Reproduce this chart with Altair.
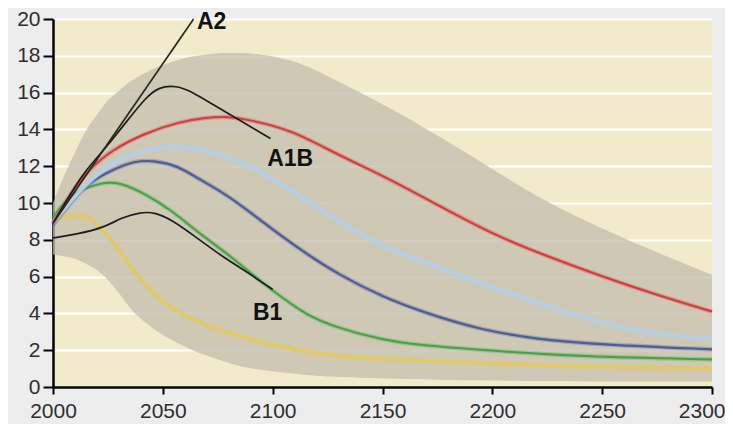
import altair as alt
import pandas as pd
import numpy as np

# ---- data ----
band_years = [2000, 2005, 2015, 2025, 2035, 2045, 2060, 2075, 2090, 2100, 2115, 2130,
              2150, 2175, 2200, 2225, 2250, 2275, 2300]
band_upper = [10.0, 11.5, 14.0, 15.6, 16.6, 17.3, 17.9, 18.15, 18.15, 18.0, 17.5, 16.6,
              15.4, 13.7, 11.85, 10.0, 8.6, 7.3, 6.1]
band_lower_years = [2000, 2010, 2020, 2026, 2032, 2037, 2045, 2053, 2065, 2080, 2090, 2100,
                    2120, 2150, 2200, 2250, 2300]
band_lower = [7.2, 7.0, 6.4, 5.7, 4.8, 4.0, 3.2, 2.6, 1.9, 1.3, 1.0, 0.85,
              0.6, 0.45, 0.35, 0.3, 0.3]

a2_years = [2000, 2064]
a2_vals = [8.9, 20.0]

a1b_years = [2000, 2009, 2015, 2024, 2034, 2042, 2048, 2056, 2064, 2072, 2085, 2099]
a1b_vals = [8.9, 10.7, 11.8, 13.0, 14.5, 15.7, 16.3, 16.4, 16.0, 15.4, 14.5, 13.5]

red_years = [2000, 2009, 2016, 2027, 2042, 2057, 2070, 2080, 2090, 2108, 2130, 2150,
             2175, 2200, 2225, 2250, 2275, 2300]
red_vals = [8.9, 10.7, 11.8, 12.9, 13.8, 14.4, 14.65, 14.7, 14.5, 14.0, 12.6, 11.5,
            9.9, 8.3, 7.1, 6.0, 5.0, 4.1]

lightblue_years = [2000, 2010, 2020, 2030, 2045, 2058, 2070, 2085, 2100, 2115, 2130, 2150,
                   2175, 2200, 2225, 2240, 2260, 2280, 2300]
lightblue_vals = [8.9, 10.4, 11.6, 12.4, 13.0, 13.1, 12.9, 12.3, 11.3, 10.2, 9.0, 7.6,
                  6.5, 5.4, 4.4, 3.8, 3.2, 2.8, 2.6]

darkblue_years = [2000, 2008, 2016, 2027, 2037, 2047, 2057, 2065, 2080, 2095, 2112, 2130,
                  2150, 2170, 2195, 2220, 2250, 2300]
darkblue_vals = [8.8, 10.0, 11.1, 11.8, 12.3, 12.3, 12.0, 11.4, 10.4, 9.0, 7.5, 6.1,
                 4.9, 4.0, 3.1, 2.6, 2.3, 2.05]

green_years = [2000, 2006, 2012, 2022, 2030, 2042, 2054, 2065, 2077, 2087, 2095, 2105,
               2115, 2127, 2150, 2165, 2195, 2240, 2300]
green_vals = [9.2, 10.2, 10.7, 11.1, 11.15, 10.5, 9.6, 8.5, 7.45, 6.5, 5.7, 4.8,
              3.95, 3.3, 2.55, 2.3, 2.0, 1.65, 1.5]

b1_years = [2000, 2011, 2024, 2031, 2040, 2046, 2054, 2065, 2077, 2087, 2100]
b1_vals = [8.1, 8.3, 8.7, 9.2, 9.5, 9.5, 9.1, 8.15, 7.1, 6.35, 5.3]

yellow_years = [2000, 2008, 2015, 2022, 2028, 2034, 2041, 2050, 2059, 2075, 2090, 2100,
                2115, 2135, 2160, 2195, 2240, 2300]
yellow_vals = [9.0, 9.4, 9.3, 8.7, 7.8, 6.7, 5.7, 4.6, 3.9, 3.1, 2.6, 2.3,
               1.9, 1.6, 1.45, 1.3, 1.1, 1.0]

label_text = ["A2", "A1B", "B1"]
label_year = [2065.5, 2097.5, 2091]
label_value = [19.85, 12.4, 4.0]

x_ticks = [2000, 2050, 2100, 2150, 2200, 2250, 2300]
y_ticks = [0, 2, 4, 6, 8, 10, 12, 14, 16, 18, 20]

# ---- build chart ----
xs = alt.Scale(domain=[2000, 2300], nice=False)
ys = alt.Scale(domain=[0, 20], nice=False)
last_test = "datum.value == 2300"
xax = alt.Axis(values=x_ticks, format="d", title=None, grid=False, tickSize=7,
               labelPadding=6, labelFlush=False,
               labelAlign={"condition": {"test": last_test, "value": "right"},
                           "value": "center"},
               labelOffset={"condition": {"test": last_test, "value": 13},
                            "value": 0})
yax = alt.Axis(values=y_ticks, title=None, grid=True, gridColor="white", gridWidth=2,
               tickSize=10, labelPadding=3, labelFlush=False)

X = lambda f: alt.X(f, type="quantitative", scale=xs, axis=xax)
Y = lambda f: alt.Y(f, type="quantitative", scale=ys, axis=yax)

grid = sorted(set(band_years) | set(band_lower_years))
band2 = pd.DataFrame({
    "year": grid,
    "upper": np.interp(grid, band_years, band_upper),
    "lower": np.interp(grid, band_lower_years, band_lower),
})
band = alt.Chart(band2).mark_area(
    color="#c2bcae", opacity=0.75, interpolate="basis"
).encode(x=X("year"), y=Y("upper"), y2="lower:Q")

series = [
    ("yellow", yellow_years, yellow_vals, "#e6c95a", 2.5, "basis"),
    ("green", green_years, green_vals, "#44a444", 2.0, "basis"),
    ("darkblue", darkblue_years, darkblue_vals, "#4c5d98", 2.2, "basis"),
    ("lightblue", lightblue_years, lightblue_vals, "#b5d0e6", 3.5, "basis"),
    ("red", red_years, red_vals, "#d63a3a", 2.0, "basis"),
    ("b1", b1_years, b1_vals, "#1e1e1e", 1.7, "basis"),
    ("a1b", a1b_years, a1b_vals, "#1e1e1e", 1.7, "basis"),
    ("a2", a2_years, a2_vals, "#2a2a1e", 1.7, "linear"),
]

layers = [band]
for name, yrs, vals, col, sw, interp in series:
    df = pd.DataFrame({"year": yrs, "v": vals})
    base = alt.Chart(df)
    if name not in ("b1", "a1b", "a2"):
        layers.append(base.mark_line(color=col, strokeWidth=sw + 2.5, opacity=0.3,
                                     interpolate=interp).encode(x=X("year"), y=Y("v")))
    layers.append(base.mark_line(color=col, strokeWidth=sw, interpolate=interp)
                  .encode(x=X("year"), y=Y("v")))

lab_df = pd.DataFrame({"t": label_text, "year": label_year, "v": label_value})
labels = alt.Chart(lab_df).mark_text(
    align="left", baseline="middle", fontWeight="bold", fontSize=23,
    font="Liberation Sans", color="#111"
).encode(x=X("year"), y=Y("v"), text="t:N")
layers.append(labels)

chart = alt.layer(*layers).properties(
    width=659, height=368,
    autosize=alt.AutoSizeParams(type="none"),
    padding={"left": 45, "top": 11, "right": 13, "bottom": 37},
    background="#ededed",
).configure_view(
    fill="#f1eacb", strokeWidth=0
).configure_axis(
    domainColor="black", domainWidth=2.5, tickColor="black", tickWidth=2,
    labelFontSize=21, labelColor="#2e2e2e", labelFont="Liberation Sans",
    labelOverlap=False,
)

chart.save("out.html", embed_options={"renderer": "svg", "actions": False})
